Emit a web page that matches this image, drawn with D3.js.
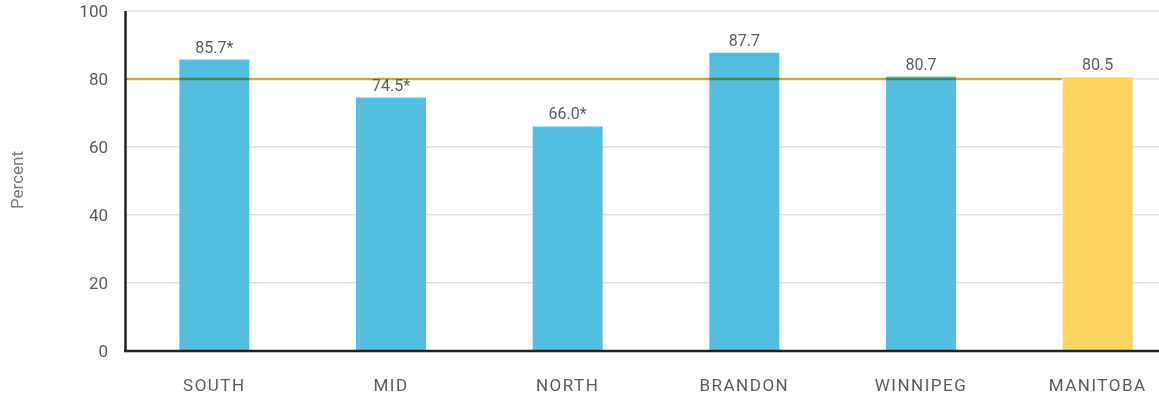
<!DOCTYPE html>
<html><head><meta charset="utf-8">
<script src="https://cdn.jsdelivr.net/npm/d3@7"></script>
<style>
body{margin:0;background:#fff;}
text{font-family:Roboto,"DejaVu Sans",sans-serif;}
</style></head>
<body><svg id="c" width="1159" height="396"></svg>
<script>
const categories = ["SOUTH","MID","NORTH","BRANDON","WINNIPEG","MANITOBA"];
const values = [85.7,74.5,66.0,87.7,80.7,80.5];
const valueLabels = ["85.7*","74.5*","66.0*","87.7","80.7","80.5"];
const yTicks = [0,20,40,60,80,100];
const referenceValue = [80];

const svg = d3.select("#c");
const x0 = 126, xEnd = 1159;
const y = d3.scaleLinear().domain([0,100]).range([350.7,11]);
const x = d3.scaleBand().domain(categories).range([126,1186]).paddingInner(0.604).paddingOuter(0.302);

// gridlines
svg.append("g").selectAll("line").data(yTicks.filter(d=>d>0)).join("line")
  .attr("x1",x0).attr("x2",xEnd).attr("y1",d=>y(d)).attr("y2",d=>y(d))
  .attr("stroke","#d0d0d0").attr("stroke-width",1);

// y tick labels
svg.append("g").selectAll("text").data(yTicks).join("text")
  .attr("x",108).attr("y",d=>y(d)).attr("dy","0.36em")
  .attr("text-anchor","end").attr("font-size",17).attr("fill","#5a5a5a").text(d=>d);

// bars
svg.append("g").selectAll("rect").data(values).join("rect")
  .attr("x",(d,i)=>x(categories[i])).attr("width",x.bandwidth())
  .attr("y",d=>y(d)).attr("height",d=>y(0)-y(d))
  .attr("fill",(d,i)=>categories[i]==="MANITOBA"?"#FDD55F":"#53BDE2");

// reference line
svg.append("g").selectAll("line").data(referenceValue).join("line")
  .attr("x1",x0).attr("x2",1062).attr("y1",d=>y(d)).attr("y2",d=>y(d))
  .attr("stroke","#E3B64B").attr("stroke-width",2.5)
  .style("mix-blend-mode","multiply");

// value labels
svg.append("g").selectAll("text").data(values).join("text")
  .attr("x",(d,i)=>x(categories[i])+x.bandwidth()/2).attr("y",d=>y(d)-7)
  .attr("text-anchor","middle").attr("font-size",16).attr("fill","#5a5a5a")
  .text((d,i)=>valueLabels[i]);

// category labels
svg.append("g").selectAll("text").data(categories).join("text")
  .attr("x",d=>x(d)+x.bandwidth()/2).attr("y",391)
  .attr("text-anchor","middle").attr("font-size",17).attr("fill","#5a5a5a")
  .attr("letter-spacing","1.5px").text(d=>d);

// axes lines
svg.append("line").attr("x1",125.5).attr("x2",125.5).attr("y1",11).attr("y2",352)
  .attr("stroke","#222").attr("stroke-width",2.5);
svg.append("line").attr("x1",124).attr("x2",xEnd).attr("y1",351).attr("y2",351)
  .attr("stroke","#222").attr("stroke-width",2.5);

// y axis title
svg.append("text").attr("transform","translate(23,180) rotate(-90)")
  .attr("text-anchor","middle").attr("font-size",17).attr("fill","#777").text("Percent");
</script></body></html>
